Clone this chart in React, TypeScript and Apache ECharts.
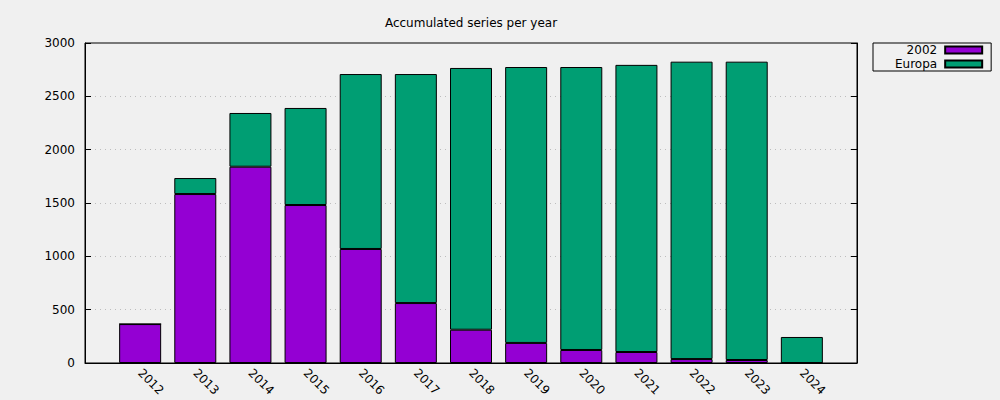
import React, { useEffect, useRef } from "react";
import * as echarts from "echarts";

const years = ["2012", "2013", "2014", "2015", "2016", "2017", "2018", "2019", "2020", "2021", "2022", "2023", "2024"];
const series2002 = [365, 1584, 1840, 1481, 1069, 562, 312, 188, 122, 103, 37, 28, 0];
const seriesEuropa = [0, 150, 504, 910, 1640, 2147, 2454, 2587, 2653, 2692, 2788, 2797, 244];
const yTicks = [0, 500, 1000, 1500, 2000, 2500, 3000];

const FONT = "DejaVu Sans";

export default function App() {
  const ref = useRef<HTMLDivElement>(null);
  useEffect(() => {
    document.body.style.margin = "0";
    document.body.style.background = "#f0f0f0";
    const chart = echarts.init(ref.current!, null, { renderer: "svg" });
    // one empty slot on each side of the years, as in the original x range
    const cats = ["", ...years, ""];
    const pad = (arr: number[]) => [null, ...arr, null];
    chart.setOption({
      animation: false,
      backgroundColor: "#f0f0f0",
      textStyle: { fontFamily: FONT },
      title: {
        text: "Accumulated series per year",
        left: 466,
        top: 12,
        textAlign: "center",
        textStyle: { fontFamily: FONT, fontSize: 12, fontWeight: "normal", color: "#000" },
      },
      legend: {
        orient: "vertical",
        left: 873,
        top: 43,
        align: "right",
        padding: [1, 8, 1, 22],
        itemGap: 2,
        itemWidth: 37,
        itemHeight: 7,
        borderColor: "#000",
        borderWidth: 1,
        icon: "rect",
        formatter: "{a|{name}}",
        textStyle: {
          fontFamily: FONT,
          fontSize: 12,
          color: "#000",
          rich: { a: { align: "right", padding: [0, 3, 0, 0], fontFamily: FONT, fontSize: 12, color: "#000" } },
        },
        data: ["2002", "Europa"],
      },
      grid: {
        left: 85,
        right: 143,
        top: 43,
        bottom: 37,
        show: true,
        borderColor: "#000",
        borderWidth: 1,
        backgroundColor: "transparent",
      },
      xAxis: {
        type: "category",
        data: cats,
        boundaryGap: false,
        axisLine: { show: true, onZero: false, lineStyle: { color: "#000", width: 1 } },
        axisTick: { show: false },
        splitLine: { show: false },
        axisLabel: {
          rotate: -45,
          margin: 8,
          interval: 0,
          fontFamily: FONT,
          fontSize: 12,
          color: "#000",
        },
      },
      yAxis: [
        {
          type: "value",
          min: yTicks[0],
          max: yTicks[yTicks.length - 1],
          interval: yTicks[1] - yTicks[0],
          axisLine: { show: true, onZero: false, lineStyle: { color: "#000", width: 1 } },
          axisTick: { show: true, inside: true, length: 6, lineStyle: { color: "#000" } },
          axisLabel: { margin: 10, fontFamily: FONT, fontSize: 12, color: "#000", formatter: (v: number) => String(v) },
          splitLine: {
            show: true,
            showMinLine: false,
            showMaxLine: false,
            lineStyle: { color: "#bdbdbd", type: [1, 4], width: 1 },
          },
        },
        {
          type: "value",
          position: "right",
          min: yTicks[0],
          max: yTicks[yTicks.length - 1],
          interval: yTicks[1] - yTicks[0],
          axisLine: { show: true, onZero: false, lineStyle: { color: "#000", width: 1 } },
          axisTick: { show: true, inside: true, length: 6, lineStyle: { color: "#000" } },
          axisLabel: { show: false },
          splitLine: { show: false },
        },
      ],
      series: [
        {
          name: "2002",
          type: "bar",
          stack: "total",
          barWidth: 42,
          data: pad(series2002),
          itemStyle: { color: "#9400d3", borderColor: "#000", borderWidth: 1 },
        },
        {
          name: "Europa",
          type: "bar",
          stack: "total",
          barWidth: 42,
          data: pad(seriesEuropa),
          itemStyle: { color: "#009e73", borderColor: "#000", borderWidth: 1 },
        },
      ],
    });
    return () => chart.dispose();
  }, []);
  return (
    <div
      ref={ref}
      style={{ position: "fixed", left: 0, top: 0, width: 1000, height: 400, background: "#f0f0f0" }}
    />
  );
}
